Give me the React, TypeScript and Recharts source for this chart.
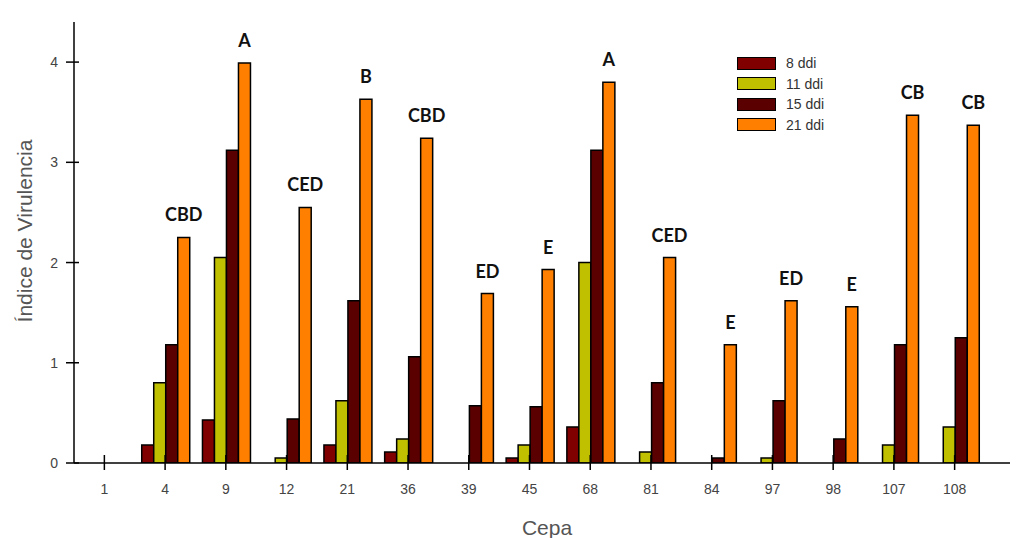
import { Bar, BarChart, LabelList, XAxis, YAxis } from 'recharts';

const cepas = ['1', '4', '9', '12', '21', '36', '39', '45', '68', '81', '84', '97', '98', '107', '108'];
const ddi8 = [0, 0.18, 0.43, 0, 0.18, 0.11, 0, 0.05, 0.36, 0, 0, 0, 0, 0, 0];
const ddi11 = [0, 0.8, 2.05, 0.05, 0.62, 0.24, 0, 0.18, 2.0, 0.11, 0, 0.05, 0, 0.18, 0.36];
const ddi15 = [0, 1.18, 3.12, 0.44, 1.62, 1.06, 0.57, 0.56, 3.12, 0.8, 0.05, 0.62, 0.24, 1.18, 1.25];
const ddi21 = [0, 2.25, 3.99, 2.55, 3.63, 3.24, 1.69, 1.93, 3.8, 2.05, 1.18, 1.62, 1.56, 3.47, 3.37];
const letras = ['', 'CBD', 'A', 'CED', 'B', 'CBD', 'ED', 'E', 'A', 'CED', 'E', 'ED', 'E', 'CB', 'CB'];
const yTicks = [0, 1, 2, 3, 4];

const series = [
  { key: 'd8', name: '8 ddi', color: '#800000' },
  { key: 'd11', name: '11 ddi', color: '#c0c000' },
  { key: 'd15', name: '15 ddi', color: '#5a0000' },
  { key: 'd21', name: '21 ddi', color: '#ff8000' },
];

const data = cepas.map((c, i) => ({
  cepa: c,
  d8: ddi8[i],
  d11: ddi11[i],
  d15: ddi15[i],
  d21: ddi21[i],
  letra: letras[i],
}));

const axisFont = 'Arial, "Liberation Sans", sans-serif';
const X_TICK = 7;
const X_MARGIN = 14;
const Y_TICK = 8;
const Y_MARGIN = 8;

function XTick(props: any) {
  const { x, y, payload } = props;
  const axisY = y - X_MARGIN - X_TICK;
  return (
    <g>
      <line x1={x} x2={x} y1={axisY - 8} y2={axisY + X_TICK} stroke="#000" strokeWidth={1.5} />
      <text x={x} y={y} dy={10} textAnchor="middle" fontSize={14} fill="#444" fontFamily={axisFont}>
        {payload.value}
      </text>
    </g>
  );
}

function YTick(props: any) {
  const { x, y, payload } = props;
  const axisX = x + Y_MARGIN + Y_TICK;
  return (
    <g>
      <line x1={axisX - Y_TICK} x2={axisX + 5} y1={y} y2={y} stroke="#000" strokeWidth={1.5} />
      <text x={x} y={y} dy={5} textAnchor="end" fontSize={14} fill="#444" fontFamily={axisFont}>
        {payload.value}
      </text>
    </g>
  );
}

function YTitle() {
  return (
    <text
      x={32}
      y={231}
      transform="rotate(-90 32 231)"
      textAnchor="middle"
      fontSize={21}
      fill="#555"
      fontFamily={axisFont}
    >
      Índice de Virulencia
    </text>
  );
}

function XTitle() {
  return (
    <text x={547} y={535} textAnchor="middle" fontSize={21} fill="#555" fontFamily={axisFont}>
      Cepa
    </text>
  );
}

// legend drawn as an overlay so it doesn't eat plot space
function LegendBox() {
  return (
    <div
      style={{
        position: 'absolute',
        left: 737,
        top: 53,
        fontFamily: axisFont,
        fontSize: 14,
        color: '#333',
      }}
    >
      {series.map((s) => (
        <div key={s.key} style={{ display: 'flex', alignItems: 'center', height: 20.5 }}>
          <div
            style={{
              width: 37,
              height: 11,
              background: s.color,
              border: '1.5px solid #000',
              marginRight: 10,
            }}
          />
          <span>{s.name}</span>
        </div>
      ))}
    </div>
  );
}

export default function App() {
  return (
    <div style={{ position: 'absolute', left: 0, top: 0, width: 1018, height: 538, background: '#fff' }}>
      <BarChart
        width={1018}
        height={538}
        data={data}
        margin={{ top: 22, right: 8, bottom: 0, left: 0 }}
        barCategoryGap={7}
        barGap={0}
      >
        <XAxis
          dataKey="cepa"
          tickLine={false}
          tickSize={X_TICK}
          tickMargin={X_MARGIN}
          tick={<XTick />}
          axisLine={{ stroke: '#000', strokeWidth: 1.5 }}
          padding={{ left: 0, right: 25 }}
          interval={0}
          height={75}
          label={<XTitle />}
        />
        <YAxis
          domain={[0, 4.4]}
          ticks={yTicks}
          width={74}
          tickLine={false}
          tickSize={Y_TICK}
          tickMargin={Y_MARGIN}
          tick={<YTick />}
          axisLine={{ stroke: '#000', strokeWidth: 1.5 }}
          allowDataOverflow
          label={<YTitle />}
        />
        {series.map((s) => (
          <Bar
            key={s.key}
            dataKey={s.key}
            name={s.name}
            fill={s.color}
            stroke="#000"
            strokeWidth={1.5}
            isAnimationActive={false}
          >
            {s.key === 'd21' && (
              <LabelList
                dataKey="letra"
                position="top"
                offset={16}
                fontSize={18}
                fontWeight="bold"
                fill="#111"
                fontFamily='Lato, "Open Sans", sans-serif'
              />
            )}
          </Bar>
        ))}
      </BarChart>
      <LegendBox />
    </div>
  );
}
